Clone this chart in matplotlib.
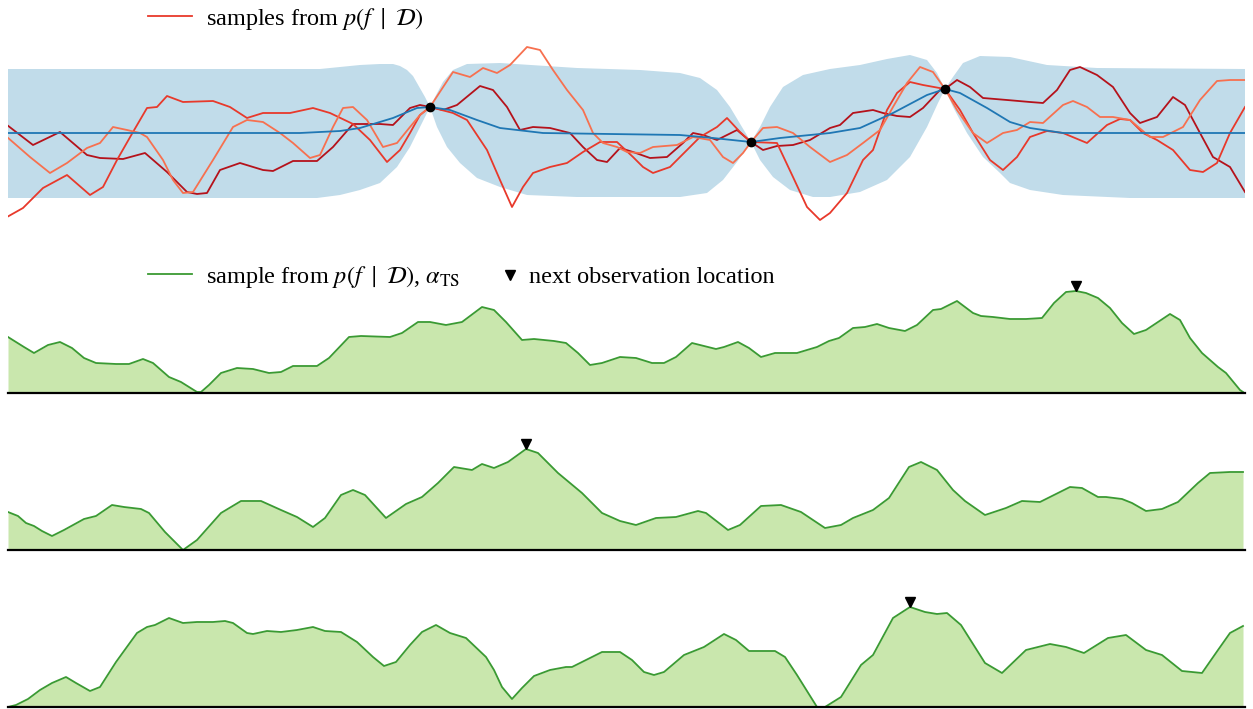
import numpy as np
import matplotlib
matplotlib.use('Agg')
import matplotlib.pyplot as plt
from matplotlib.lines import Line2D

plt.rcParams['font.family'] = 'serif'
plt.rcParams['font.serif'] = ['Liberation Serif', 'DejaVu Serif']
plt.rcParams['mathtext.fontset'] = 'stix'

W, H = 1253, 709
XLIM = (8, 1245)

# --- top panel: GP posterior (x position, value) ---
band_upper = [(8, 64), (320, 64), (360, 68), (380, 69), (393, 69), (400, 67), (407, 63),
              (413, 57), (417, 50), (425, 36), (430, 26), (435, 36), (443, 51), (453, 63),
              (467, 69), (500, 70), (577, 65), (640, 63), (680, 60), (700, 55), (717, 43),
              (730, 26), (742, 6), (751, -9), (760, 6), (770, 26), (783, 46), (803, 58),
              (830, 64), (860, 68), (887, 74), (910, 78), (927, 73), (937, 60), (945, 44),
              (953, 56), (963, 70), (980, 77), (1010, 76), (1047, 68), (1097, 65), (1245, 64)]
band_lower = [(8, -65), (317, -65), (340, -62), (360, -57), (380, -50), (397, -34), (410, -14),
              (420, 6), (430, 26), (437, 6), (447, -14), (460, -30), (477, -45), (500, -54),
              (527, -62), (577, -64), (680, -64), (707, -60), (723, -47), (737, -29), (751, -9),
              (760, -27), (773, -44), (790, -57), (813, -64), (830, -64), (860, -59), (887, -47),
              (910, -24), (927, 6), (938, 30), (945, 44), (953, 26), (967, 0), (983, -24),
              (1000, -40), (1010, -50), (1030, -57), (1063, -62), (1130, -65), (1245, -65)]
post_mean = [(8, 0), (300, 0), (340, 2), (360, 5), (393, 15), (417, 25), (430, 26), (450, 23),
             (477, 13), (500, 5), (543, 0), (610, -1), (680, -2), (713, -5), (751, -9), (780, -5),
             (830, 0), (860, 5), (893, 20), (927, 38), (945, 44), (960, 40), (987, 25),
             (1010, 11), (1030, 5), (1063, 0), (1245, 0)]
observations = [(430, 26), (751, -9), (945, 44)]

sample_dark = [(7, 8), (33, -12), (60, 1), (87, -22), (100, -25), (123, -26), (145, -20),
               (167, -39), (187, -59), (197, -61), (207, -60), (220, -37), (240, -30), (263, -37),
               (273, -38), (293, -28), (317, -28), (333, -14), (353, 9), (380, 9), (393, 8),
               (410, 25), (420, 28), (430, 26), (443, 23), (457, 28), (480, 47), (493, 43),
               (507, 26), (520, 3), (533, 6), (550, 5), (570, 0), (583, -14), (597, -27),
               (607, -29), (620, -15), (633, -19), (650, -25), (667, -24), (683, -10), (693, 0),
               (703, -2), (717, -7), (737, 3), (751, -9), (763, -17), (777, -13), (793, -12),
               (810, -7), (830, 5), (840, 8), (853, 20), (873, 23), (883, 20), (897, 17),
               (910, 16), (923, 25), (940, 43), (945, 44), (957, 53), (970, 46), (983, 35),
               (1007, 33), (1030, 31), (1043, 30), (1057, 43), (1070, 63), (1080, 66), (1097, 58),
               (1113, 46), (1130, 20), (1140, 10), (1157, 16), (1173, 36), (1185, 28), (1200, 0),
               (1213, -24), (1230, -34), (1245, -59)]
sample_red = [(7, -84), (23, -75), (43, -55), (67, -42), (90, -62), (103, -54), (117, -27),
              (133, 1), (147, 25), (157, 26), (167, 37), (183, 31), (213, 32), (230, 26),
              (247, 15), (263, 20), (290, 20), (313, 25), (330, 20), (353, 9), (370, -7),
              (387, -29), (400, -17), (410, 0), (420, 18), (430, 26), (453, 20), (467, 13),
              (487, -17), (500, -47), (512, -74), (523, -54), (533, -40), (550, -34), (567, -30),
              (583, -19), (600, -9), (617, -9), (633, -24), (643, -34), (653, -40), (670, -34),
              (687, -17), (700, -4), (717, 6), (727, 15), (740, 1), (751, -9), (777, -10),
              (793, -44), (807, -74), (820, -87), (830, -80), (847, -60), (863, -27), (873, -17),
              (887, 23), (897, 40), (910, 51), (923, 48), (945, 44), (960, 23), (973, 0),
              (990, -27), (1003, -37), (1017, -24), (1030, -4), (1047, 2), (1063, 0), (1087, -10),
              (1107, 8), (1120, 14), (1130, 13), (1143, 0), (1157, -7), (1173, -17), (1190, -37),
              (1203, -39), (1217, -30), (1230, 0), (1245, 26)]
sample_light = [(7, -4), (30, -24), (50, -40), (67, -30), (87, -15), (100, -10), (113, 6),
                (127, 3), (140, 0), (147, -4), (163, -27), (173, -47), (183, -60), (193, -59),
                (213, -27), (233, 6), (247, 13), (263, 11), (280, 0), (293, -10), (310, -25),
                (320, -22), (333, 6), (343, 25), (353, 26), (367, 13), (383, -14), (397, -10),
                (410, 6), (420, 18), (430, 26), (453, 61), (470, 56), (483, 65), (497, 60),
                (510, 68), (527, 86), (540, 83), (553, 63), (567, 43), (583, 23), (593, 0),
                (603, -10), (617, -14), (627, -19), (640, -20), (653, -14), (677, -12), (693, -4),
                (710, -7), (723, -24), (733, -30), (743, -20), (751, -9), (763, 5), (777, 6),
                (793, 0), (810, -14), (830, -29), (847, -22), (863, -10), (880, 3), (893, 26),
                (907, 50), (920, 66), (933, 61), (945, 44), (957, 23), (973, 0), (987, -10),
                (1003, 0), (1017, 3), (1030, 11), (1043, 10), (1063, 28), (1073, 32), (1087, 26),
                (1100, 16), (1113, 16), (1130, 13), (1150, -4), (1163, -4), (1183, 6), (1200, 33),
                (1217, 52), (1230, 53), (1245, 53)]

# --- Thompson sampling draws, one per row ---
ts_sample_1 = [(8, 56), (24, 46), (34, 40), (48, 48), (60, 51), (72, 45), (84, 35), (96, 30),
               (116, 29), (129, 29), (143, 34), (153, 30), (169, 16), (181, 11), (197, 1), (201, 1),
               (209, 8), (221, 20), (237, 25), (253, 24), (269, 20), (281, 21), (293, 27),
               (317, 27), (329, 35), (349, 56), (361, 57), (390, 56), (402, 60), (418, 71),
               (430, 71), (446, 68), (462, 71), (482, 86), (494, 83), (506, 71), (522, 53),
               (534, 54), (554, 52), (566, 50), (578, 40), (590, 28), (602, 30), (620, 36),
               (636, 35), (652, 30), (664, 30), (676, 36), (692, 50), (704, 47), (716, 44),
               (724, 46), (738, 51), (749, 45), (761, 36), (775, 40), (797, 40), (817, 46),
               (829, 52), (839, 55), (853, 65), (865, 66), (877, 69), (889, 65), (905, 62),
               (917, 68), (933, 83), (941, 84), (957, 92), (973, 80), (981, 77), (993, 76),
               (1010, 74), (1026, 74), (1042, 75), (1054, 90), (1066, 101), (1076, 102),
               (1086, 100), (1098, 95), (1110, 85), (1122, 70), (1134, 59), (1146, 63),
               (1158, 71), (1170, 79), (1180, 73), (1190, 55), (1202, 40), (1218, 26), (1226, 20),
               (1240, 3), (1243, 1)]
ts_sample_2 = [(8, 38), (18, 34), (26, 27), (34, 24), (42, 19), (52, 14), (64, 20), (84, 31),
               (96, 34), (112, 45), (124, 43), (141, 41), (149, 37), (165, 18), (183, 0), (197, 10),
               (221, 37), (241, 49), (261, 49), (281, 40), (297, 33), (313, 23), (325, 32),
               (341, 55), (353, 60), (365, 55), (386, 32), (406, 46), (422, 53), (438, 67),
               (454, 83), (472, 80), (482, 86), (494, 82), (508, 88), (526, 101), (538, 97),
               (558, 77), (582, 57), (602, 37), (620, 29), (636, 25), (656, 32), (676, 33),
               (698, 39), (706, 37), (728, 20), (740, 25), (761, 44), (781, 45), (801, 38),
               (825, 22), (841, 25), (853, 32), (873, 40), (889, 52), (909, 83), (921, 88),
               (937, 80), (953, 60), (965, 49), (985, 35), (1006, 42), (1022, 49), (1040, 48),
               (1054, 55), (1070, 63), (1082, 62), (1098, 53), (1106, 53), (1122, 51), (1132, 47),
               (1146, 39), (1162, 41), (1178, 48), (1198, 67), (1210, 77), (1230, 78), (1243, 78)]
ts_sample_3 = [(8, 0), (16, 2), (28, 8), (40, 17), (52, 24), (66, 30), (76, 24), (90, 16),
               (100, 20), (116, 45), (137, 74), (147, 80), (155, 82), (169, 89), (183, 84),
               (197, 85), (213, 85), (225, 86), (233, 84), (247, 74), (253, 73), (267, 76),
               (281, 75), (297, 77), (313, 80), (325, 76), (341, 75), (357, 65), (373, 50),
               (384, 41), (396, 45), (410, 62), (422, 75), (436, 82), (450, 74), (466, 69),
               (486, 50), (494, 37), (502, 20), (512, 8), (522, 19), (534, 31), (550, 37),
               (566, 40), (572, 40), (586, 47), (602, 55), (620, 55), (632, 47), (644, 35),
               (654, 32), (664, 35), (684, 52), (704, 60), (724, 73), (736, 67), (749, 56),
               (775, 56), (785, 50), (797, 32), (817, 0), (825, 0), (841, 10), (861, 42),
               (873, 52), (893, 89), (910, 100), (925, 95), (937, 93), (947, 94), (961, 82),
               (985, 44), (1002, 34), (1026, 57), (1050, 63), (1066, 60), (1084, 54), (1108, 69),
               (1126, 72), (1146, 57), (1162, 52), (1182, 36), (1202, 34), (1218, 57), (1230, 74),
               (1243, 81)]

BAND = '#c1dcea'
MEAN = '#1f77b4'
REDS = ['#b5121b', '#e8392b', '#f7704f']
GREEN_LINE = '#3a9a33'
GREEN_FILL = '#c9e7ad'
FS = 17.5


def xy(pairs):
  a = np.array(pairs, dtype=float)
  return a[:, 0], a[:, 1]


def px_axes(fig, top, bottom):
  # axes spanning the drawing width between two pixel rows
  ax = fig.add_axes([XLIM[0] / W, 1 - bottom / H, (XLIM[1] - XLIM[0]) / W, (bottom - top) / H])
  ax.set_xlim(*XLIM)
  ax.axis('off')
  return ax


fig = plt.figure(figsize=(W / 100, H / 100), dpi=100)

# top: posterior
ax = px_axes(fig, 40, 230)
ax.set_ylim(-97, 93)
xu, yu = xy(band_upper)
xl, yl = xy(band_lower)
ax.fill(np.r_[xu, xl[::-1]], np.r_[yu, yl[::-1]], color=BAND, lw=0, zorder=1)
xm, ym = xy(post_mean)
ax.plot(xm, ym, color=MEAN, lw=1.3, zorder=3)
for s, c in zip([sample_dark, sample_red, sample_light], REDS):
  sx, sy = xy(s)
  ax.plot(sx, sy, color=c, lw=1.3, zorder=2)
ox, oy = xy(observations)
ax.plot(ox, oy, 'o', color='k', ms=6, zorder=4, clip_on=False)

fig.legend([Line2D([], [], color=REDS[1], lw=1.3)],
           [r'samples from $p(f\ \mid\ \mathcal{D})$'],
           loc='center left', bbox_to_anchor=(148 / W, 1 - 19 / H), frameon=False,
           borderpad=0, borderaxespad=0, handlelength=1.8, handletextpad=0.6, fontsize=FS)

# Thompson sampling rows
rows = [(283, 393, ts_sample_1), (440, 550, ts_sample_2), (597, 707, ts_sample_3)]
for top, bottom, s in rows:
  ax = px_axes(fig, top, bottom)
  ax.set_ylim(0, 110)
  sx, sy = xy(s)
  ax.fill_between(sx, 0, sy, color=GREEN_FILL, lw=0)
  ax.plot(sx, sy, color=GREEN_LINE, lw=1.3)
  ax.axhline(0, color='k', lw=1.6, clip_on=False)
  i = np.argmax(sy)
  ax.plot(sx[i], sy[i] + 5, 'v', color='k', ms=7, clip_on=False)

fig.legend([Line2D([], [], color=GREEN_LINE, lw=1.3)],
           [r'sample from $p(f\ \mid\ \mathcal{D})$, $\alpha_{\mathrm{TS}}$'],
           loc='center left', bbox_to_anchor=(148 / W, 1 - 277 / H), frameon=False,
           borderpad=0, borderaxespad=0, handlelength=1.8, handletextpad=0.6, fontsize=FS)
fig.legend([Line2D([], [], marker='v', ls='none', color='k', ms=7)],
           ['next observation location'],
           loc='center left', bbox_to_anchor=(503 / W, 1 - 277 / H), frameon=False,
           borderpad=0, borderaxespad=0, handlelength=0.6, handletextpad=0.45, fontsize=FS)

fig.savefig('out.png', dpi=100)
